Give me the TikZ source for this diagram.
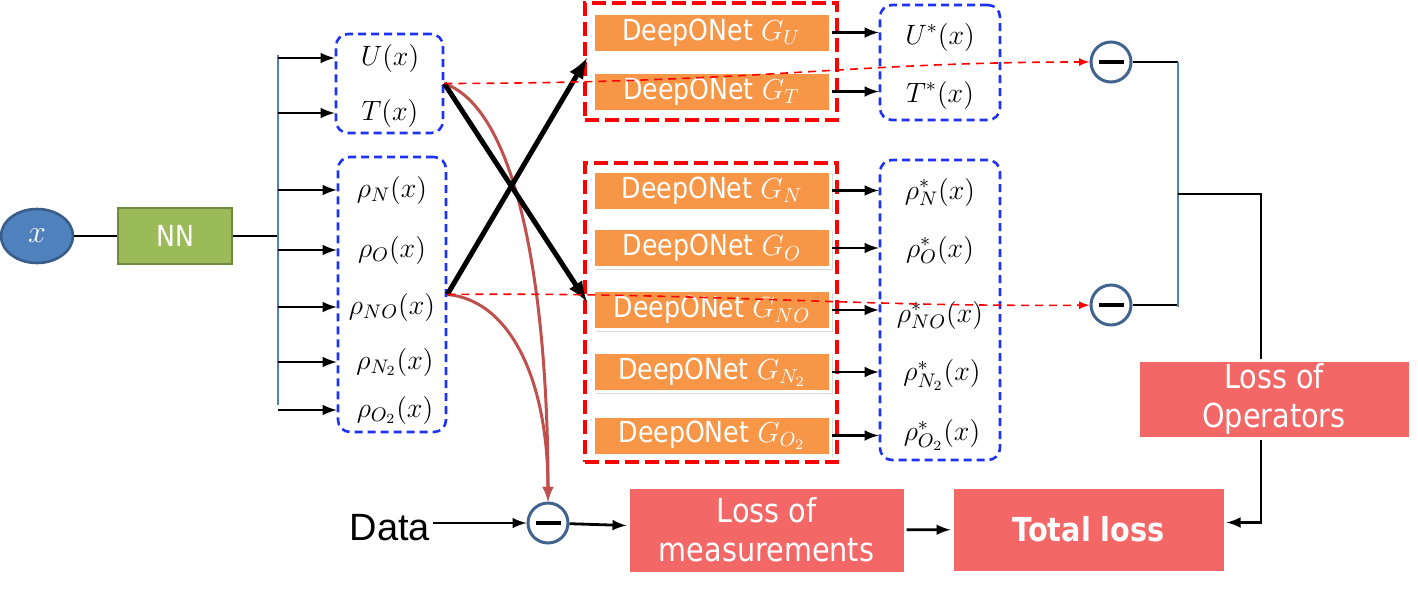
\RequirePackage{fix-cm}
\documentclass[tikz,border=0pt]{standalone}
\usepackage{fontspec}
\setsansfont{Liberation Sans}
\newfontfamily\tahoma[FakeStretch=0.87]{DejaVu Sans}
\usetikzlibrary{shapes.geometric,shadows}
\tikzset{>=latex}
\definecolor{inblue}{HTML}{4F81BD}
\definecolor{inblueb}{HTML}{385D8A}
\definecolor{nngreen}{HTML}{9BBB59}
\definecolor{nngreenb}{HTML}{71893F}
\definecolor{onetcol}{HTML}{F79646}
\definecolor{losscol}{HTML}{F46767}
\definecolor{curvcol}{HTML}{C0504D}
\definecolor{minuscol}{HTML}{41648F}
\definecolor{dashblue}{RGB}{30,50,245}
\colorlet{dashred}{red}
\tikzstyle{shade}=[drop shadow={shadow xshift=1.2pt,shadow yshift=-1.2pt,opacity=.3}]
\tikzstyle{vbox}=[draw=dashblue,line width=1.3pt,rounded corners=6pt,dash pattern=on 4pt off 2.5pt]
\tikzstyle{rbox}=[draw=dashred,line width=1.6pt,dash pattern=on 7pt off 3pt]
\tikzstyle{onet}=[shade,fill=onetcol,draw=white,line width=1.5pt,minimum width=118.5pt,
  minimum height=19.5pt,inner sep=0pt,text=white,font=\tahoma\fontsize{14.5}{16}\selectfont]
\tikzstyle{lossbox}=[shade,fill=losscol,draw=white,line width=1.5pt,inner sep=0pt,align=center,
  text=white,font=\tahoma\fontsize{16.5}{19.5}\selectfont]
\tikzstyle{lbl}=[inner sep=1pt,font=\fontsize{14}{16}\selectfont]
\tikzstyle{minus}=[circle,draw=minuscol,line width=1.5pt,fill=white,minimum size=20pt,inner sep=0pt]
\tikzstyle{arr}=[->,line width=1.4pt]
\tikzstyle{bus}=[inblue,line width=0.8pt]
\tikzstyle{xarr}=[->,line width=2.5pt]
\tikzstyle{curv}=[->,curvcol,line width=1.5pt]
\tikzstyle{rdash}=[->,dashred,line width=0.8pt,dash pattern=on 4pt off 3pt]
\def\minusbar{\rule{12.5pt}{2.2pt}}

\begin{document}
\begin{tikzpicture}[x=0.5pt,y=-0.5pt]
  \useasboundingbox (0,0) rectangle (1418,595);

  % INPUT AND NETWORK
  \node[ellipse,fill=inblue,draw=inblueb,line width=1.3pt,minimum width=36pt,minimum height=27pt,
    inner sep=0pt,text=white,font=\fontsize{16}{18}\selectfont] (x) at (37,236) {$x$};
  \node[fill=nngreen,draw=nngreenb,line width=1pt,minimum width=57pt,minimum height=28pt,
    text=white,font=\tahoma\fontsize{14.5}{16}\selectfont] (nn) at (175,236) {NN};
  \coordinate (busT) at (278,55);
  \coordinate (busB) at (278,405);
  \draw[thick] (x) -- (nn);
  \draw[thick] (nn) -- (nn -| busT);
  \draw[bus] (busT) -- (busB);

  % NN OUTPUTS
  \node[vbox,minimum width=53.5pt,minimum height=49.5pt] (b1) at (389.5,83.5) {};
  \node[vbox,minimum width=54pt,minimum height=137.5pt] (b2) at (392,294.5) {};
  \node[lbl] (U) at (390,58) {$U(x)$};
  \node[lbl] (T) at (390,113) {$T(x)$};
  \node[lbl] (rN) at (392,190) {$\rho_N(x)$};
  \node[lbl] (rO) at (392,250) {$\rho_O(x)$};
  \node[lbl] (rNO) at (392,307) {$\rho_{NO}(x)$};
  \node[lbl] (rN2) at (395,362) {$\rho_{N_2}(x)$};
  \node[lbl] (rO2) at (395,410) {$\rho_{O_2}(x)$};
  \draw[arr] (U -| busT) -- (U -| b1.west);
  \draw[arr] (T -| busT) -- (T -| b1.west);
  \draw[arr] (rN -| busT) -- (rN -| b2.west);
  \draw[arr] (rO -| busT) -- (rO -| b2.west);
  \draw[arr] (rNO -| busT) -- (rNO -| b2.west);
  \draw[arr] (rN2 -| busT) -- (rN2 -| b2.west);
  \draw[arr] (rO2 -| busT) -- (rO2 -| b2.west);

  % DEEPONETS
  \node[rbox,minimum width=126pt,minimum height=58.5pt] (rA) at (711,61.5) {};
  \node[rbox,minimum width=126pt,minimum height=149.5pt] (rB) at (711,312.5) {};
  \node[onet] (gU) at (711.5,32.5) {DeepONet $G_U$};
  \node[onet] (gT) at (711.5,91.5) {DeepONet $G_T$};
  \node[onet] (gN) at (712,190.5) {DeepONet $G_N$};
  \node[onet] (gO) at (712,248) {DeepONet $G_O$};
  \node[onet] (gNO) at (712,310) {DeepONet $G_{NO}$};
  \node[onet] (gN2) at (712,372) {DeepONet $G_{N_2}$};
  \node[onet] (gO2) at (712,435.5) {DeepONet $G_{O_2}$};

  % OPERATOR OUTPUTS
  \node[vbox,minimum width=60pt,minimum height=57.5pt] (b3) at (940,62.5) {};
  \node[vbox,minimum width=60pt,minimum height=150pt] (b4) at (940,310) {};
  \node[lbl] (Us) at (940,37) {$U^*(x)$};
  \node[lbl] (Ts) at (940,95) {$T^*(x)$};
  \node[lbl] (sN) at (940,192) {$\rho^*_N(x)$};
  \node[lbl] (sO) at (940,250) {$\rho^*_O(x)$};
  \node[lbl] (sNO) at (940,315) {$\rho^*_{NO}(x)$};
  \node[lbl] (sN2) at (942,375) {$\rho^*_{N_2}(x)$};
  \node[lbl] (sO2) at (942,435) {$\rho^*_{O_2}(x)$};
  \draw[arr] (gU) -- (gU -| b3.west);
  \draw[arr] (gT) -- (gT -| b3.west);
  \draw[arr] (gN) -- (gN -| b4.west);
  \draw[arr] (gO) -- (gO -| b4.west);
  \draw[arr] (gNO) -- (gNO -| b4.west);
  \draw[arr] (gN2) -- (gN2 -| b4.west);
  \draw[arr] (gO2) -- (gO2 -| b4.west);

  % CROSSING CONNECTIONS
  \coordinate (xA) at (587,58);
  \coordinate (xB) at (587,302);
  \node[minus] (m3) at (548,523) {\minusbar};
  \draw[curv] (b1.east) .. controls (520,110) and (548,300) .. (m3);
  \draw[curv] (b2.east) .. controls (510,300) and (548,380) .. (m3);
  \draw[xarr] (b1.east) -- (xB);
  \draw[xarr] (b2.east) -- (xA);

  % OPERATOR LOSS
  \node[minus] (m1) at (1111,62) {\minusbar};
  \node[minus] (m2) at (1111,305) {\minusbar};
  \draw[rdash] (b1.east) .. controls (760,83) and (850,62) .. (m1);
  \draw[rdash] (b2.east) .. controls (700,292) and (850,307) .. (m2);
  \coordinate (jT) at (1178,62);
  \coordinate (jB) at (1178,307);
  \coordinate (jM) at (1178,194);
  \coordinate (jR) at (1261,194);
  \draw[thick] (m1) -- (jT);
  \draw[thick] (m2) -- (m2 -| jB);
  \draw[bus] (jT) -- (jB);
  \node[lossbox,minimum width=136.5pt,minimum height=42.5pt,font=\tahoma\bfseries\fontsize{16.5}{19.5}\selectfont]
    (total) at (1088.5,529.5) {Total loss};
  \draw[arr] (jM) -- (jR) |- ([yshift=3.5pt]total.east);
  \node[lossbox,minimum width=136pt,minimum height=39pt] (lossop) at (1274,399) {Loss of\\Operators};

  % MEASUREMENT LOSS
  \node[font=\sffamily\fontsize{19}{21}\selectfont,inner sep=1pt] (data) at (390,528) {Data};
  \node[lossbox,minimum width=138.5pt,minimum height=43pt] (lossm) at (766.5,530) {Loss of\\measurements};
  \draw[arr] (data.east |- m3) -- (m3);
  \draw[arr] (m3) -- (lossm);
  \draw[arr] (lossm) -- (total);
\end{tikzpicture}
\end{document}
